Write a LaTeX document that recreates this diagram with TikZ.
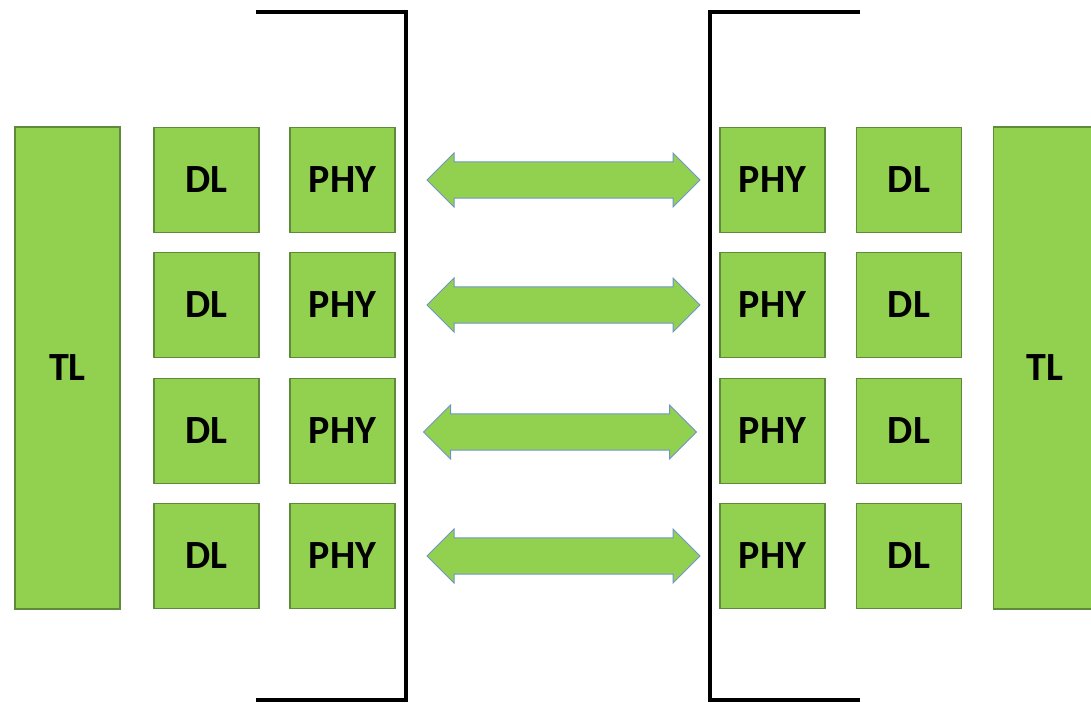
\documentclass[tikz,border=0pt]{standalone}
\usepackage{fontspec}
\setmainfont{Carlito}
\usetikzlibrary{shapes.arrows}
\definecolor{boxgreen}{HTML}{92D050}
\definecolor{boxedge}{HTML}{5F8A3A}
\definecolor{arrowedge}{HTML}{6F95C8}
\tikzset{
  blk/.style={draw=boxedge, line width=1.4pt, fill=boxgreen, inner sep=0pt,
    font=\fontsize{40}{42}\selectfont\bfseries},
  bracket/.style={draw=black, line width=3.4pt, line cap=rect},
  dblarrow/.style={draw=arrowedge, line width=1pt, fill=boxgreen,
    double arrow, double arrow tip angle=90,
    minimum height=273pt, minimum width=54pt, inner sep=0pt},
}
\begin{document}
\begin{tikzpicture}[x=1pt,y=-1pt]
\path[use as bounding box] (0,0) rectangle (1091,703);
\clip (0,0) rectangle (1091,703);
% TL boxes
\node[blk, minimum width=105pt, minimum height=482pt] (tlL) at (67.5,368) {TL};
\node[blk, minimum width=106pt, minimum height=482pt, anchor=west] (tlR) at (993,368) {};
\node[font=\fontsize{40}{42}\selectfont\bfseries] (tlRt) at (1045,368) {TL};
% rows
\foreach \i/\y in {1/180,2/305,3/431,4/556}{
  \node[blk, minimum width=105pt, minimum height=105pt] (dlL\i) at (206.5,\y) {DL};
  \node[blk, minimum width=105pt, minimum height=105pt] (phyL\i) at (342.5,\y) {PHY};
  \node[blk, minimum width=105pt, minimum height=105pt] (phyR\i) at (772.5,\y) {PHY};
  \node[blk, minimum width=105pt, minimum height=105pt] (dlR\i) at (909,\y) {DL};
}
% arrows
\node[dblarrow] (a1) at (563.5,180) {\rule{0pt}{28pt}};
\node[dblarrow] (a2) at (563.5,305) {\rule{0pt}{28pt}};
\node[dblarrow] (a3) at (560,432) {\rule{0pt}{28pt}};
\node[dblarrow] (a4) at (563.5,556) {\rule{0pt}{28pt}};
% brackets
\coordinate (bl1) at (258,12);
\coordinate (bl2) at (406,12);
\coordinate (bl3) at (406,700);
\coordinate (bl4) at (258,700);
\draw[bracket] (bl1) -- (bl2) -- (bl3) -- (bl4);
\coordinate (br1) at (858,12);
\coordinate (br2) at (710,12);
\coordinate (br3) at (710,700);
\coordinate (br4) at (858,700);
\draw[bracket] (br1) -- (br2) -- (br3) -- (br4);
\end{tikzpicture}
\end{document}
